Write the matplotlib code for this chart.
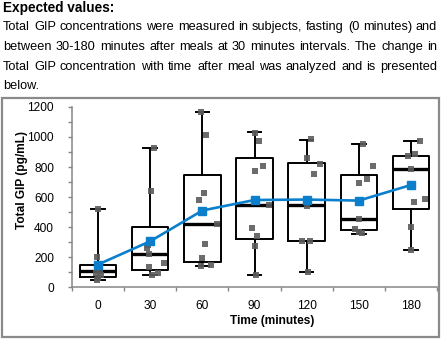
import matplotlib
matplotlib.use('Agg')
import matplotlib.pyplot as plt
from matplotlib.patches import Rectangle

plt.rcParams['font.family'] = ['Liberation Sans', 'DejaVu Sans']

# ---------------- data ----------------
times = ['0', '30', '60', '90', '120', '150', '180']
whislo = [45, 78, 142, 77, 99, 356, 245]
q1 = [69, 113, 169, 318, 305, 380, 518]
med = [105, 220, 420, 545, 547, 452, 787]
q3 = [147, 402, 749, 858, 828, 747, 876]
whishi = [520, 926, 1169, 1030, 980, 950, 975]
means = [150, 305, 510, 580, 583, 576, 680]

points = [
    [520, 202, 150, 110, 95, 80, 60, 45],
    [926, 640, 280, 258, 220, 136, 158, 91, 80],
    [1169, 1013, 624, 580, 420, 290, 191, 147, 140],
    [1029, 976, 807, 776, 547, 391, 340, 273, 80],
    [987, 858, 818, 751, 542, 307, 307, 102],
    [953, 807, 718, 691, 451, 387, 369, 358],
    [973, 887, 873, 787, 584, 569, 402, 245],
]
jitter_px = [
    [0, -1, 0, 2, -2, 3, 0, -1],
    [4, 1, -2, -3, -1, -1, 14, 8, 2],
    [-1, 4, 2, -3, 15, 3, 0, 9, -1],
    [0, 4, 8, 0, 14, -3, 2, 0, 1],
    [4, 0, 13, 7, 0, -5, 3, 1],
    [4, 14, 8, 0, 0, -4, 0, 3],
    [9, 4, -3, 0, 14, 3, 0, 0],
]

title_text = "Expected values:"
body_lines = [
    "Total GIP concentrations were measured in subjects, fasting (0 minutes) and",
    "between 30-180 minutes after meals at 30 minutes intervals. The change in",
    "Total GIP concentration with time after meal was analyzed and is presented",
    "below.",
]

# ---------------- figure ----------------
W, H = 445, 341
fig = plt.figure(figsize=(W / 100, H / 100), dpi=100)
renderer = fig.canvas.get_renderer()

def fx(px):
    return px / W

def fy(py):
    return 1 - py / H

fig.text(fx(3), fy(12), title_text, fontsize=9.8, fontweight='bold',
         va='baseline', ha='left')

def width_of(s, fs):
    t = fig.text(0, 0, s, fontsize=fs)
    w = t.get_window_extent(renderer).width
    t.remove()
    return w

fs_body = 9.4
maxw = max(width_of(l, fs_body) for l in body_lines[:3])
if maxw > 432:
    fs_body *= 432 / maxw

# integer pixel baselines keep all words of a line on the same row
baselines = [30, 50, 70, 89]
left_px, right_px = 3, 437
for i, line in enumerate(body_lines):
    words = line.split(' ')
    if i == len(body_lines) - 1:
        fig.text(fx(left_px), fy(baselines[i]), line, fontsize=fs_body,
                 va='baseline', ha='left')
        continue
    widths = [width_of(w, fs_body) for w in words]
    gap = (right_px - left_px - sum(widths)) / (len(words) - 1)
    x = left_px
    for w, wd in zip(words, widths):
        fig.text(fx(round(x)), fy(baselines[i]), w, fontsize=fs_body,
                 va='baseline', ha='left')
        x += wd + gap

# border around chart
fig.patches.append(Rectangle((fx(2), fy(337)), fx(439) - fx(2), fy(98) - fy(337),
                             transform=fig.transFigure, fill=False,
                             ec='#8a8a8a', lw=1.6, zorder=10))

# axes
ax_l, ax_r, ax_t, ax_b = 72, 437, 107, 287
ax = fig.add_axes([fx(ax_l), fy(ax_b), fx(ax_r) - fx(ax_l), fy(ax_t) - fy(ax_b)])
ax.set_xlim(-0.5, len(times) - 0.5)
ax.set_ylim(0, 1200)
ax.patch.set_alpha(0)

stats = []
for i in range(len(times)):
    stats.append(dict(whislo=whislo[i], q1=q1[i], med=med[i], q3=q3[i],
                      whishi=whishi[i], fliers=[]))
pos = list(range(len(times)))
ax.bxp(stats, positions=pos, widths=0.7, capwidths=0.26, showfliers=False,
       boxprops=dict(color='black', lw=1.4),
       whiskerprops=dict(color='black', lw=1.4),
       capprops=dict(color='black', lw=1.4),
       medianprops=dict(color='black', lw=2.4))

px_per_unit = (ax_r - ax_l) / len(times)
for i, (vals, jit) in enumerate(zip(points, jitter_px)):
    xs = [i + j / px_per_unit for j in jit]
    ax.scatter(xs, vals, marker='s', s=22, color='#5c5c5c', alpha=0.9,
               linewidths=0, zorder=4)

ax.plot(pos, means, color='#0B7FCB', lw=1.9, marker='s', ms=6.2, zorder=6)

for s in ['top', 'right']:
    ax.spines[s].set_visible(False)
for s in ['left', 'bottom']:
    ax.spines[s].set_color('#868686')
    ax.spines[s].set_linewidth(1.1)

ax.set_xticks(pos)
ax.set_xticklabels(times)
ax.set_xticks([p - 0.5 for p in pos] + [len(times) - 0.5], minor=True)
ax.tick_params(axis='x', which='major', length=0, pad=9.5, labelsize=8.6)
ax.tick_params(axis='x', which='minor', length=3, color='#868686', width=1)
ax.set_yticks(range(0, 1201, 200))
ax.set_yticks(range(0, 1201, 100), minor=True)
ax.tick_params(axis='y', which='both', length=3, color='#868686', width=1,
               labelsize=8.6, pad=10)

fig.text(fx(272), fy(321), 'Time (minutes)', fontsize=8.6, fontweight='bold',
         ha='center', va='center')
fig.text(fx(22), fy(180), 'Total GIP (pg/mL)', fontsize=8.6, fontweight='bold',
         ha='center', va='center', rotation=90)

fig.savefig('out.png', dpi=100)
